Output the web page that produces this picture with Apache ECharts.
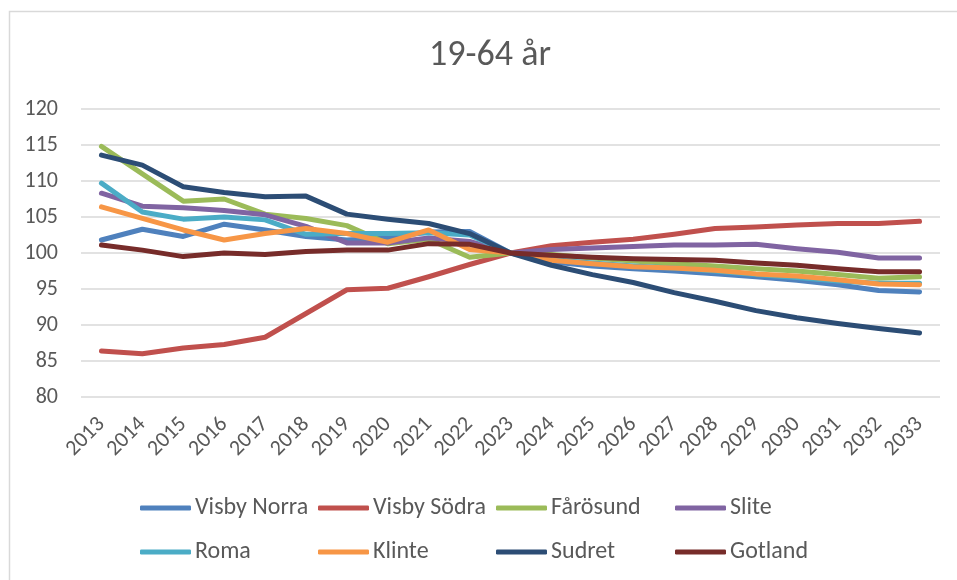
<!DOCTYPE html>
<html>
<head>
<meta charset="utf-8">
<title>19-64 år</title>
<script src="https://cdn.jsdelivr.net/npm/echarts@6/dist/echarts.min.js"></script>
<style>
  html, body { margin: 0; padding: 0; background: #fff; }
  #chart { width: 957px; height: 580px; }
</style>
</head>
<body>
<div id="chart"></div>
<script>
// år
var years = ['2013', '2014', '2015', '2016', '2017', '2018', '2019', '2020', '2021', '2022', '2023',
  '2024', '2025', '2026', '2027', '2028', '2029', '2030', '2031', '2032', '2033'];

// index, 2023 = 100
var visbyNorra = [101.8, 103.3, 102.3, 104.0, 103.2, 102.3, 101.8, 102.1, 102.9, 103.0, 100,
  98.8, 98.2, 97.8, 97.5, 97.1, 96.7, 96.2, 95.6, 94.8, 94.6];
var visbySodra = [86.4, 86.0, 86.8, 87.3, 88.3, 91.6, 94.9, 95.1, 96.7, 98.4, 100,
  101.0, 101.5, 101.9, 102.6, 103.4, 103.6, 103.9, 104.1, 104.1, 104.4];
var farosund = [114.8, 111.0, 107.2, 107.5, 105.4, 104.8, 103.8, 101.3, 101.9, 99.4, 100,
  99.8, 99.3, 98.9, 98.5, 98.2, 97.8, 97.5, 97.0, 96.5, 96.7];
var slite = [108.3, 106.5, 106.3, 105.9, 105.3, 103.7, 101.4, 101.4, 102.1, 101.6, 100,
  100.5, 100.7, 100.9, 101.1, 101.1, 101.2, 100.6, 100.1, 99.3, 99.3];
var roma = [109.7, 105.7, 104.7, 105.0, 104.6, 102.6, 102.7, 102.7, 102.8, 102.5, 100,
  99.1, 98.6, 98.2, 97.9, 97.5, 97.0, 96.6, 96.1, 95.8, 95.8];
var klinte = [106.4, 104.8, 103.2, 101.8, 102.7, 103.4, 102.7, 101.5, 103.2, 100.5, 100,
  99.0, 98.5, 98.1, 97.9, 97.6, 97.1, 96.8, 96.3, 95.7, 95.6];
var sudret = [113.6, 112.2, 109.2, 108.4, 107.8, 107.9, 105.4, 104.7, 104.1, 102.7, 100,
  98.3, 97.0, 95.9, 94.5, 93.3, 92.0, 91.0, 90.2, 89.5, 88.9];
var gotland = [101.1, 100.4, 99.5, 100.0, 99.8, 100.2, 100.4, 100.4, 101.3, 101.2, 100,
  99.7, 99.4, 99.2, 99.1, 99.0, 98.6, 98.3, 97.8, 97.4, 97.4];

var names = ['Visby Norra', 'Visby Södra', 'Fårösund', 'Slite', 'Roma', 'Klinte', 'Sudret', 'Gotland'];
var values = [visbyNorra, visbySodra, farosund, slite, roma, klinte, sudret, gotland];
var colors = ['#4F81BD', '#C0504D', '#9BBB59', '#8064A2', '#4BACC6', '#F79646', '#2C4D75', '#772C2A'];

var font = "Carlito, 'Liberation Sans', Arial, sans-serif";
var grey = '#595959';

var chart = echarts.init(document.getElementById('chart'));

// legend: 4 columns x 2 rows, one legend per item so the columns line up
var colX = [140, 318, 496, 675];
var rowY = [496, 540];
var legends = names.map(function (n, i) {
  return {
    data: [n],
    left: colX[i % 4],
    top: rowY[Math.floor(i / 4)],
    padding: 0,
    icon: 'roundRect',
    itemWidth: 51,
    itemHeight: 5,
    textStyle: { fontFamily: font, fontSize: 24, color: grey, padding: [0, 0, 0, -1] }
  };
});

var series = names.map(function (n, i) {
  return {
    name: n,
    type: 'line',
    data: values[i],
    symbol: 'none',
    color: colors[i],
    lineStyle: { width: 5, color: colors[i], cap: 'round', join: 'round' }
  };
});

chart.setOption({
  backgroundColor: '#fff',
  animation: false,
  title: {
    text: '19-64 år',
    left: 490,
    textAlign: 'center',
    top: 38,
    padding: 0,
    textStyle: { fontFamily: font, fontSize: 36, fontWeight: 'normal', color: grey }
  },
  graphic: [{
    type: 'rect',
    shape: { x: 9.5, y: 11.5, width: 960, height: 580 },
    style: { fill: 'none', stroke: '#d9d9d9', lineWidth: 1.5 },
    silent: true
  }],
  legend: legends,
  grid: { left: 81, right: 17, top: 109, bottom: 183 },
  xAxis: {
    type: 'category',
    data: years,
    boundaryGap: true,
    axisLine: { show: false },
    axisTick: { show: false },
    axisLabel: { rotate: 45, margin: 24, fontFamily: font, fontSize: 22, color: grey }
  },
  yAxis: {
    type: 'value',
    min: 80,
    max: 120,
    interval: 5,
    axisLine: { show: false },
    axisTick: { show: false },
    axisLabel: { margin: 23, fontFamily: font, fontSize: 22, color: grey },
    splitLine: { lineStyle: { color: '#d9d9d9', width: 1.5 } }
  },
  series: series
});
</script>
</body>
</html>
